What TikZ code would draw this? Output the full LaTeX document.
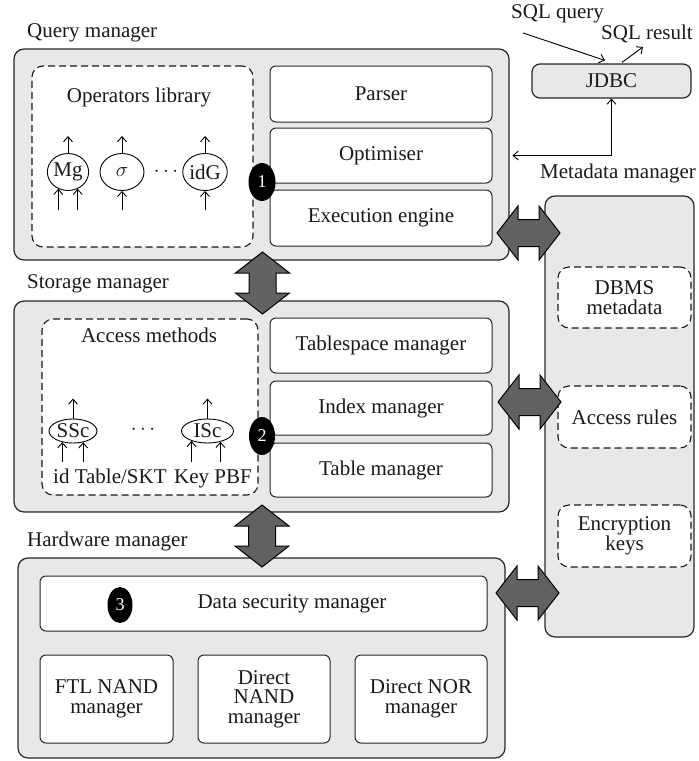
\documentclass[tikz,border=0pt]{standalone}
\usepackage{fontspec}
\setmainfont{Liberation Serif}
\usetikzlibrary{arrows.meta,calc,shapes.geometric}
\newcommand\vbigarrow[3]{%
  \draw[bigarrow] (#1,#2) -- ++(27,21) -- ++(-13.5,0) -- (#1+13.5,#3-21) -- ++(13.5,0)
    -- (#1,#3) -- ++(-27,-21) -- ++(13.5,0) -- (#1-13.5,#2+21) -- ++(-13.5,0) -- cycle;}
\newcommand\hbigarrow[3]{%
  \draw[bigarrow] (#1,#3) -- ++(21,-27) -- ++(0,13.5) -- (#2-21,#3-13.5) -- ++(0,-13.5)
    -- (#2,#3) -- ++(-21,27) -- ++(0,-13.5) -- (#1+21,#3+13.5) -- ++(0,13.5) -- cycle;}
\begin{document}
\begin{tikzpicture}[x=1pt,y=-1pt,
  every node/.style={font=\fontsize{21}{19.5}\selectfont, inner sep=0pt, text=black!90},
  outerbox/.style={draw=black!85, line width=1.2pt, fill=black!9, rounded corners=10pt},
  innerbox/.style={draw=black!85, line width=1pt, fill=white, rounded corners=6pt, align=center},
  dashbox/.style={draw=black!90, line width=1.1pt, dash pattern=on 7pt off 4pt, fill=white, rounded corners=11pt, align=center},
  opnode/.style={ellipse, draw=black, line width=0.9pt, fill=white},
  badge/.style={ellipse, fill=black, text=white, font=\fontsize{18}{18}\selectfont},
  thinarrow/.style={-{Straight Barb[length=5pt,width=9pt]}, line width=0.9pt},
  dblarrow/.style={{Straight Barb[length=5pt,width=9pt]}-{Straight Barb[length=5pt,width=9pt]}, line width=0.9pt},
  bigarrow/.style={draw=black, line width=1pt, fill=black!62, line join=miter},
  title/.style={anchor=base west},
]
\useasboundingbox (0,0) rectangle (699,761);

% titles
\node[title] (tq) at (27,37) {Query manager};
\node[title] (ts) at (27,288) {Storage manager};
\node[title] (th) at (27,546) {Hardware manager};
\node[title] (tm) at (540,178) {Metadata manager};
\node[title] (tsq) at (511,18) {SQL query};
\node[title] (tsr) at (601,39) {SQL result};

% outer boxes
\node[outerbox, minimum width=495pt, minimum height=211pt] (qm) at (261.5,154.5) {};
\node[outerbox, minimum width=495pt, minimum height=211pt] (sm) at (261.5,406.5) {};
\node[outerbox, minimum width=487pt, minimum height=200pt] (hm) at (261.5,658) {};
\node[outerbox, minimum width=149pt, minimum height=441pt] (mm) at (619.5,416.5) {};
\node[outerbox, rounded corners=8pt, minimum width=159pt, minimum height=34pt] (jdbc) at (611.5,81) {JDBC};

% query manager content
\node[dashbox, minimum width=221pt, minimum height=181pt] (ol) at (142.5,156.5) {};
\node[anchor=base] (olt) at (139,102) {Operators library};
\node[opnode, minimum width=40pt, minimum height=37pt] (mg) at (68,172) {Mg};
\node[opnode, minimum width=44pt, minimum height=37pt] (sg) at (122,172) {$\sigma$};
\node (d1) at (166,172) {$\cdots$};
\node[opnode, minimum width=44pt, minimum height=37pt] (idg) at (205,172) {idG};
\coordinate (qbase) at (0,210);
\draw[thinarrow] (mg.north) -- ++(0,-17);
\draw[thinarrow] (sg.north) -- ++(0,-17);
\draw[thinarrow] (idg.north) -- ++(0,-17);
\draw[thinarrow] (mg.240 |- qbase) -- (mg.240);
\draw[thinarrow] (mg.300 |- qbase) -- (mg.300);
\draw[thinarrow] (sg.south |- qbase) -- (sg.south);
\draw[thinarrow] (idg.south |- qbase) -- (idg.south);

\node[innerbox, minimum width=222pt, minimum height=56pt] (parser) at (381,94) {Parser};
\node[innerbox, minimum width=222pt, minimum height=55pt] (opt) at (381,155.5) {Optimiser};
\node[innerbox, minimum width=222pt, minimum height=56pt] (exe) at (381,218) {Execution engine};

% storage manager content
\node[dashbox, minimum width=216pt, minimum height=176pt] (am) at (150,407) {};
\node[anchor=base] (amt) at (149,342) {Access methods};
\node[opnode, minimum width=48pt, minimum height=24pt] (ssc) at (73,431) {SSc};
\node (d2) at (143,430) {$\cdots$};
\node[opnode, minimum width=52pt, minimum height=24pt] (isc) at (207.5,431) {ISc};
\coordinate (sbase) at (0,462);
\draw[thinarrow] (ssc.north) -- ++(0,-20);
\draw[thinarrow] (isc.north) -- ++(0,-20);
\draw[thinarrow] (ssc.226 |- sbase) -- (ssc.226);
\draw[thinarrow] (ssc.312 |- sbase) -- (ssc.312);
\draw[thinarrow] (isc.212 |- sbase) -- (isc.212);
\draw[thinarrow] (isc.320 |- sbase) -- (isc.320);
\node[anchor=base west] (lid) at (53,483) {id Table/SKT};
\node[anchor=base west] (lkey) at (174,483) {Key PBF};

\node[innerbox, minimum width=222pt, minimum height=55pt] (tsm) at (381,345.5) {Tablespace manager};
\node[innerbox, minimum width=222pt, minimum height=54pt] (idx) at (381,408) {Index manager};
\node[innerbox, minimum width=222pt, minimum height=54pt] (tbl) at (381,470) {Table manager};

% metadata content
\node[dashbox, minimum width=133pt, minimum height=61pt] (dbms) at (624.5,297.5) {DBMS\\metadata};
\node[dashbox, minimum width=133pt, minimum height=62pt] (ar) at (624.5,417) {Access rules};
\node[dashbox, minimum width=133pt, minimum height=62pt] (ek) at (624.5,536) {Encryption\\keys};

% hardware content
\node[innerbox, minimum width=447pt, minimum height=55pt] (dsm) at (263.5,603.5) {};
\node (dsmt) at (292,603.5) {Data security manager};
\node[innerbox, minimum width=133pt, minimum height=88pt] (ftl) at (106.5,699) {FTL NAND\\manager};
\node[innerbox, minimum width=132pt, minimum height=88pt] (dnand) at (264,699) {Direct\\NAND\\manager};
\node[innerbox, minimum width=132pt, minimum height=88pt] (dnor) at (421,699) {Direct NOR\\manager};

% badges
\node[badge, minimum width=27pt, minimum height=38pt] (b1) at (262,182) {1};
\node[badge, minimum width=26pt, minimum height=38pt] (b2) at (262,436) {2};
\node[badge, minimum width=25pt, minimum height=36pt] (b3) at (120,605) {3};

% JDBC connectors
\coordinate (sq) at (523,33);
\coordinate (sr) at (643,47);
\draw[thinarrow] (sq) -- ($(jdbc.north)+(-6.5,-3)$);
\draw[thinarrow] ($(jdbc.north)+(10.5,-1)$) -- (sr);
\draw[dblarrow] (jdbc.south) |- ($(qm.east |- opt.east)+(3,0)$);

% big arrows
\vbigarrow{262.5}{252}{314}
\vbigarrow{262}{505}{567}
\hbigarrow{497}{560}{233}
\hbigarrow{498}{561}{402}
\hbigarrow{496}{559}{593}
\end{tikzpicture}
\end{document}
